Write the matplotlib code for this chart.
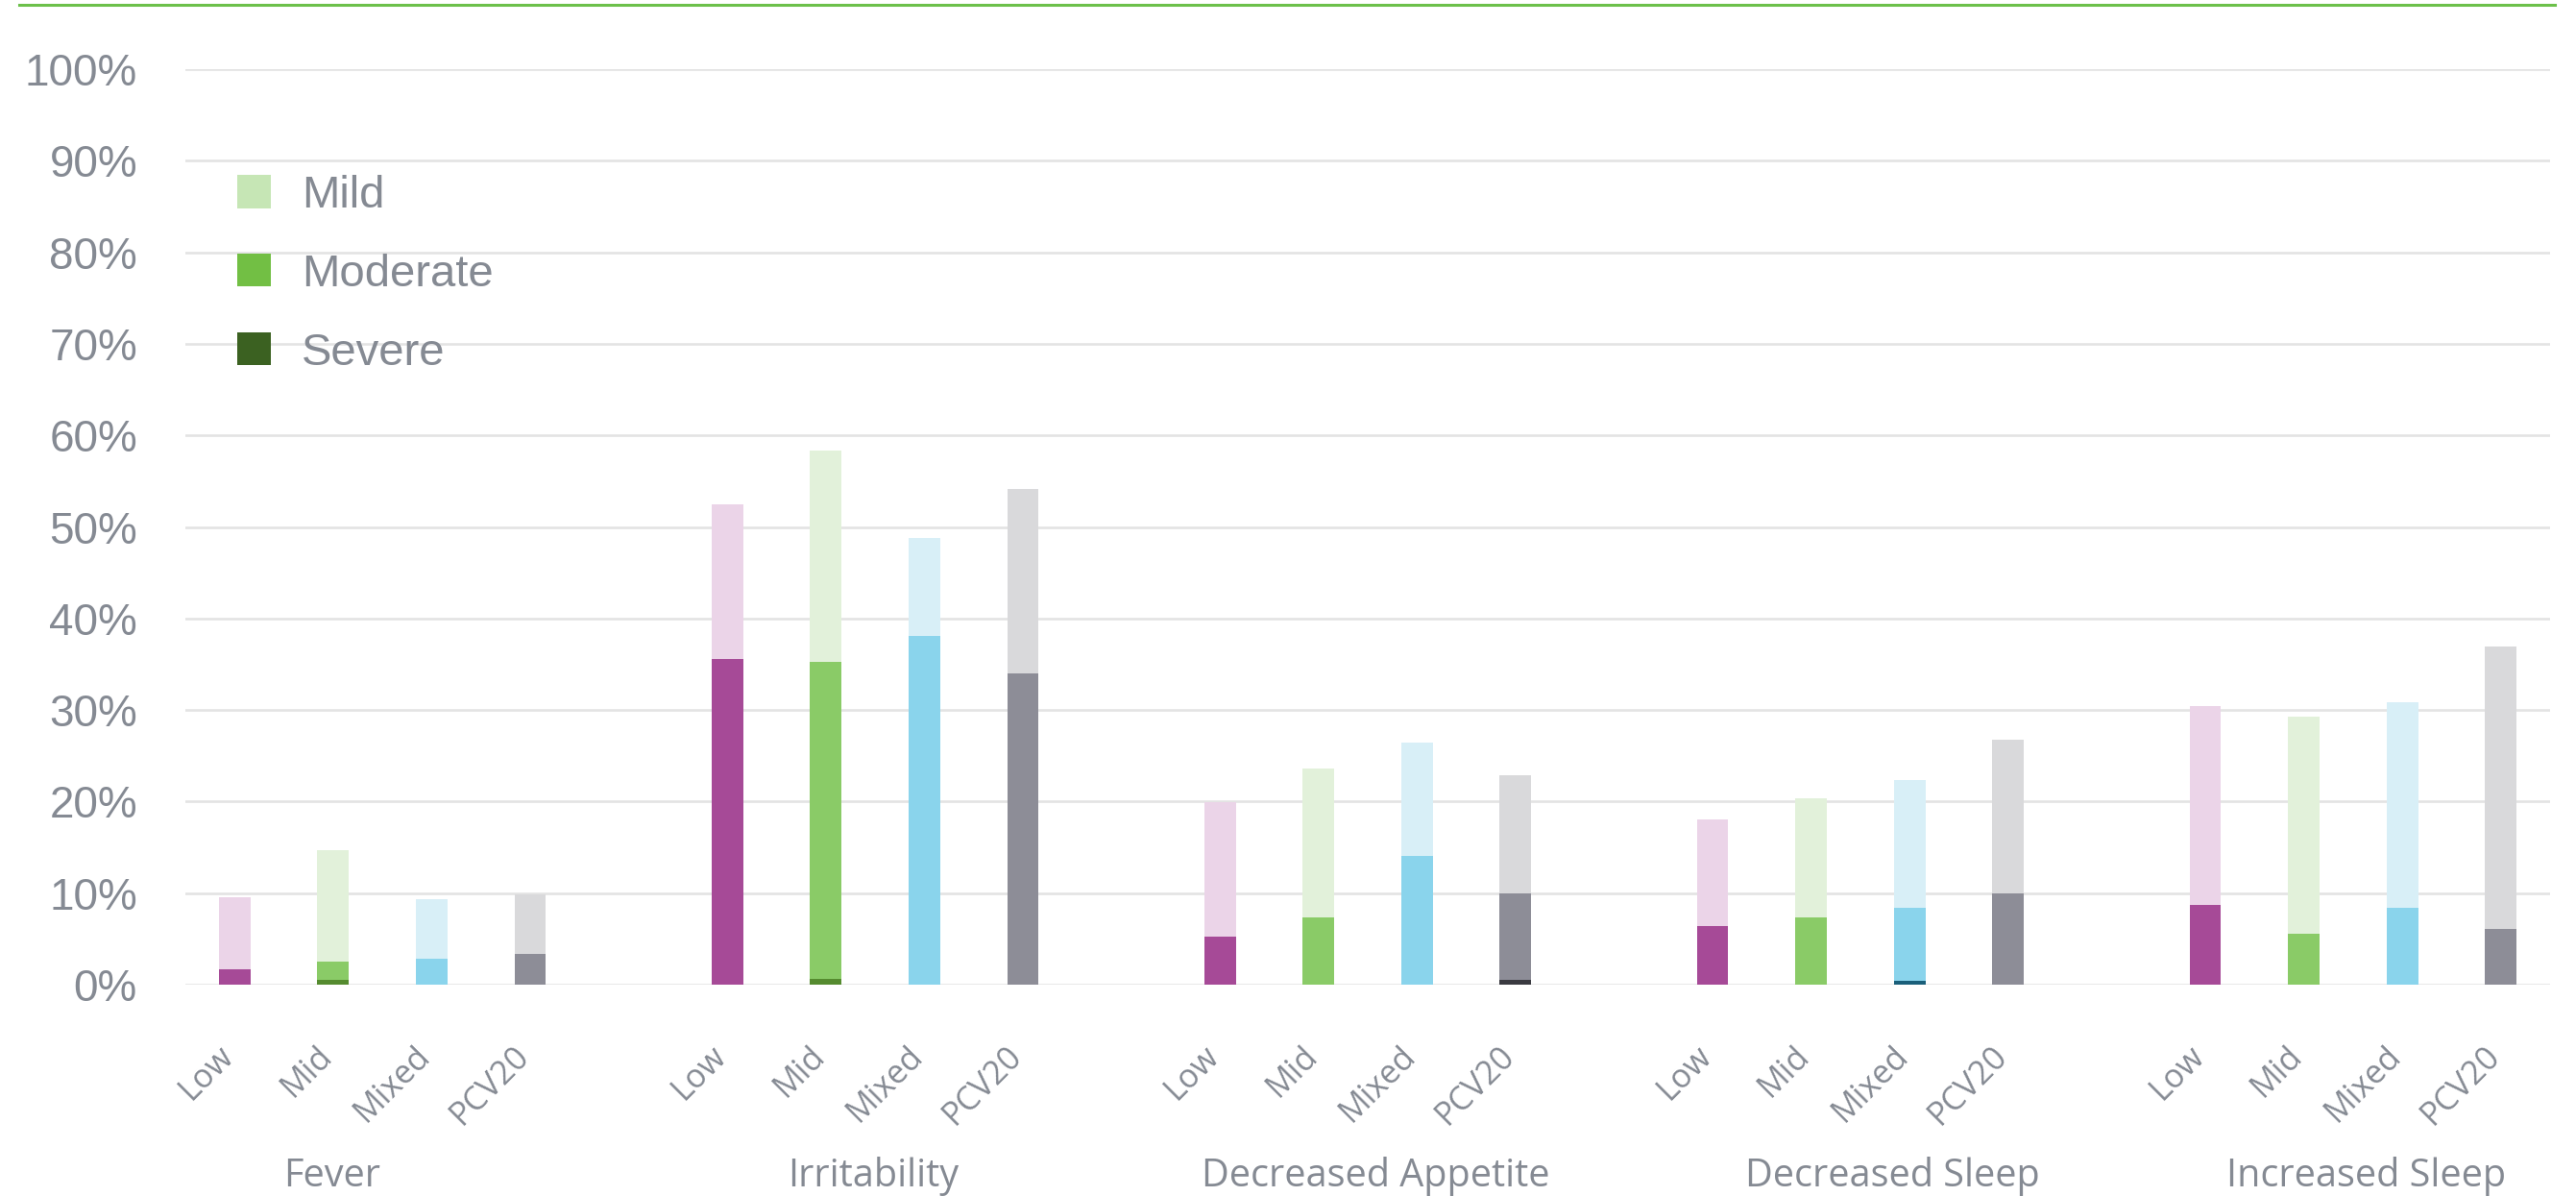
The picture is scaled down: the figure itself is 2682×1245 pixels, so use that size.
import numpy as np
import matplotlib.pyplot as plt
from matplotlib.patches import Patch
from matplotlib.lines import Line2D

# categories
groups = ['Fever', 'Irritability', 'Decreased Appetite', 'Decreased Sleep', 'Increased Sleep']
doses = ['Low', 'Mid', 'Mixed', 'PCV20']

# percent of subjects per severity, rows = groups, cols = doses
severe = [[0.0, 0.5, 0.0, 0.0],
          [0.0, 0.6, 0.0, 0.0],
          [0.0, 0.0, 0.0, 0.5],
          [0.0, 0.0, 0.4, 0.0],
          [0.0, 0.0, 0.0, 0.0]]
moderate = [[1.7, 2.0, 2.8, 3.4],
            [35.6, 34.7, 38.1, 34.0],
            [5.2, 7.3, 14.1, 9.5],
            [6.4, 7.3, 8.0, 10.0],
            [8.7, 5.6, 8.4, 6.1]]
mild = [[7.9, 12.2, 6.5, 6.5],
        [16.9, 23.0, 10.7, 20.1],
        [14.7, 16.3, 12.3, 12.9],
        [11.7, 13.1, 14.0, 16.8],
        [21.7, 23.7, 22.5, 30.8]]

# colours per dose: (severe, moderate, mild)
dose_colors = {
    'Low': ('#6B2D62', '#A64A97', '#EBD4E8'),
    'Mid': ('#558B2F', '#8ACB67', '#E2F1DA'),
    'Mixed': ('#1A5F7A', '#8AD4EC', '#D8EFF7'),
    'PCV20': ('#3A3A40', '#8D8D97', '#D9D9DB'),
}
legend_labels = ['Mild', 'Moderate', 'Severe']
legend_colors = ['#C6E6B5', '#72BF44', '#3B6121']

text_grey = '#858A93'
grid_grey = '#E3E3E3'

W, H = 2682, 1245
fig = plt.figure(figsize=(W / 100, H / 100), dpi=100)
ax = fig.add_axes([193 / W, 1 - 1025 / H, (2655 - 193) / W, (1025 - 72) / H])

sev = np.array(severe)
mod = np.array(moderate)
mil = np.array(mild)
width = 0.32

xticks = []
for g in range(len(groups)):
    for d, dose in enumerate(doses):
        x = g * 5 + d
        xticks.append(x)
        c_sev, c_mod, c_mil = dose_colors[dose]
        ax.bar(x, sev[g, d], width, color=c_sev, zorder=3)
        ax.bar(x, mod[g, d], width, bottom=sev[g, d], color=c_mod, zorder=3)
        ax.bar(x, mil[g, d], width, bottom=sev[g, d] + mod[g, d], color=c_mil, zorder=3)

ax.set_xlim(-0.5, 23.5)
ax.set_ylim(0, 100)
ax.set_yticks(range(0, 101, 10))
ax.set_yticklabels([f'{v}%' for v in range(0, 101, 10)],
                   fontfamily='Liberation Sans', fontsize=33, color=text_grey)
ax.yaxis.grid(True, color=grid_grey, lw=1.9, zorder=0)
ax.set_axisbelow(True)
for s in ax.spines.values():
    s.set_visible(False)
ax.tick_params(axis='y', length=0, pad=36)

ax.set_xticks(xticks)
ax.set_xticklabels(doses * len(groups), rotation=45, ha='right', va='baseline',
                   rotation_mode='anchor', fontfamily='Open Sans', fontsize=24.5,
                   color=text_grey)
ax.tick_params(axis='x', length=0, pad=54)

# group names under the dose labels
label_x = [0.99, 6.48, 11.58, 16.83, 21.63]
for gx, name in zip(label_x, groups):
    ax.text(gx, -0.2204, name, transform=ax.get_xaxis_transform(),
            ha='center', va='baseline', fontfamily='Open Sans', fontsize=28.5,
            color=text_grey)

handles = [Patch(facecolor=c, edgecolor='none') for c in legend_colors]
ax.legend(handles, legend_labels, loc='upper left', bbox_to_anchor=(0.0219, 0.8846),
          frameon=False, borderpad=0, borderaxespad=0, handlelength=0.74,
          handleheight=0.74, handletextpad=0.68, labelspacing=0.80,
          prop={'family': 'Liberation Sans', 'size': 34}, labelcolor=text_grey)

# green rule across the top
fig.add_artist(Line2D([20 / W, 2660 / W], [1 - 5.3 / H, 1 - 5.3 / H],
                      color='#6CC04A', lw=2.2))

fig.savefig('out.png', dpi=100)
